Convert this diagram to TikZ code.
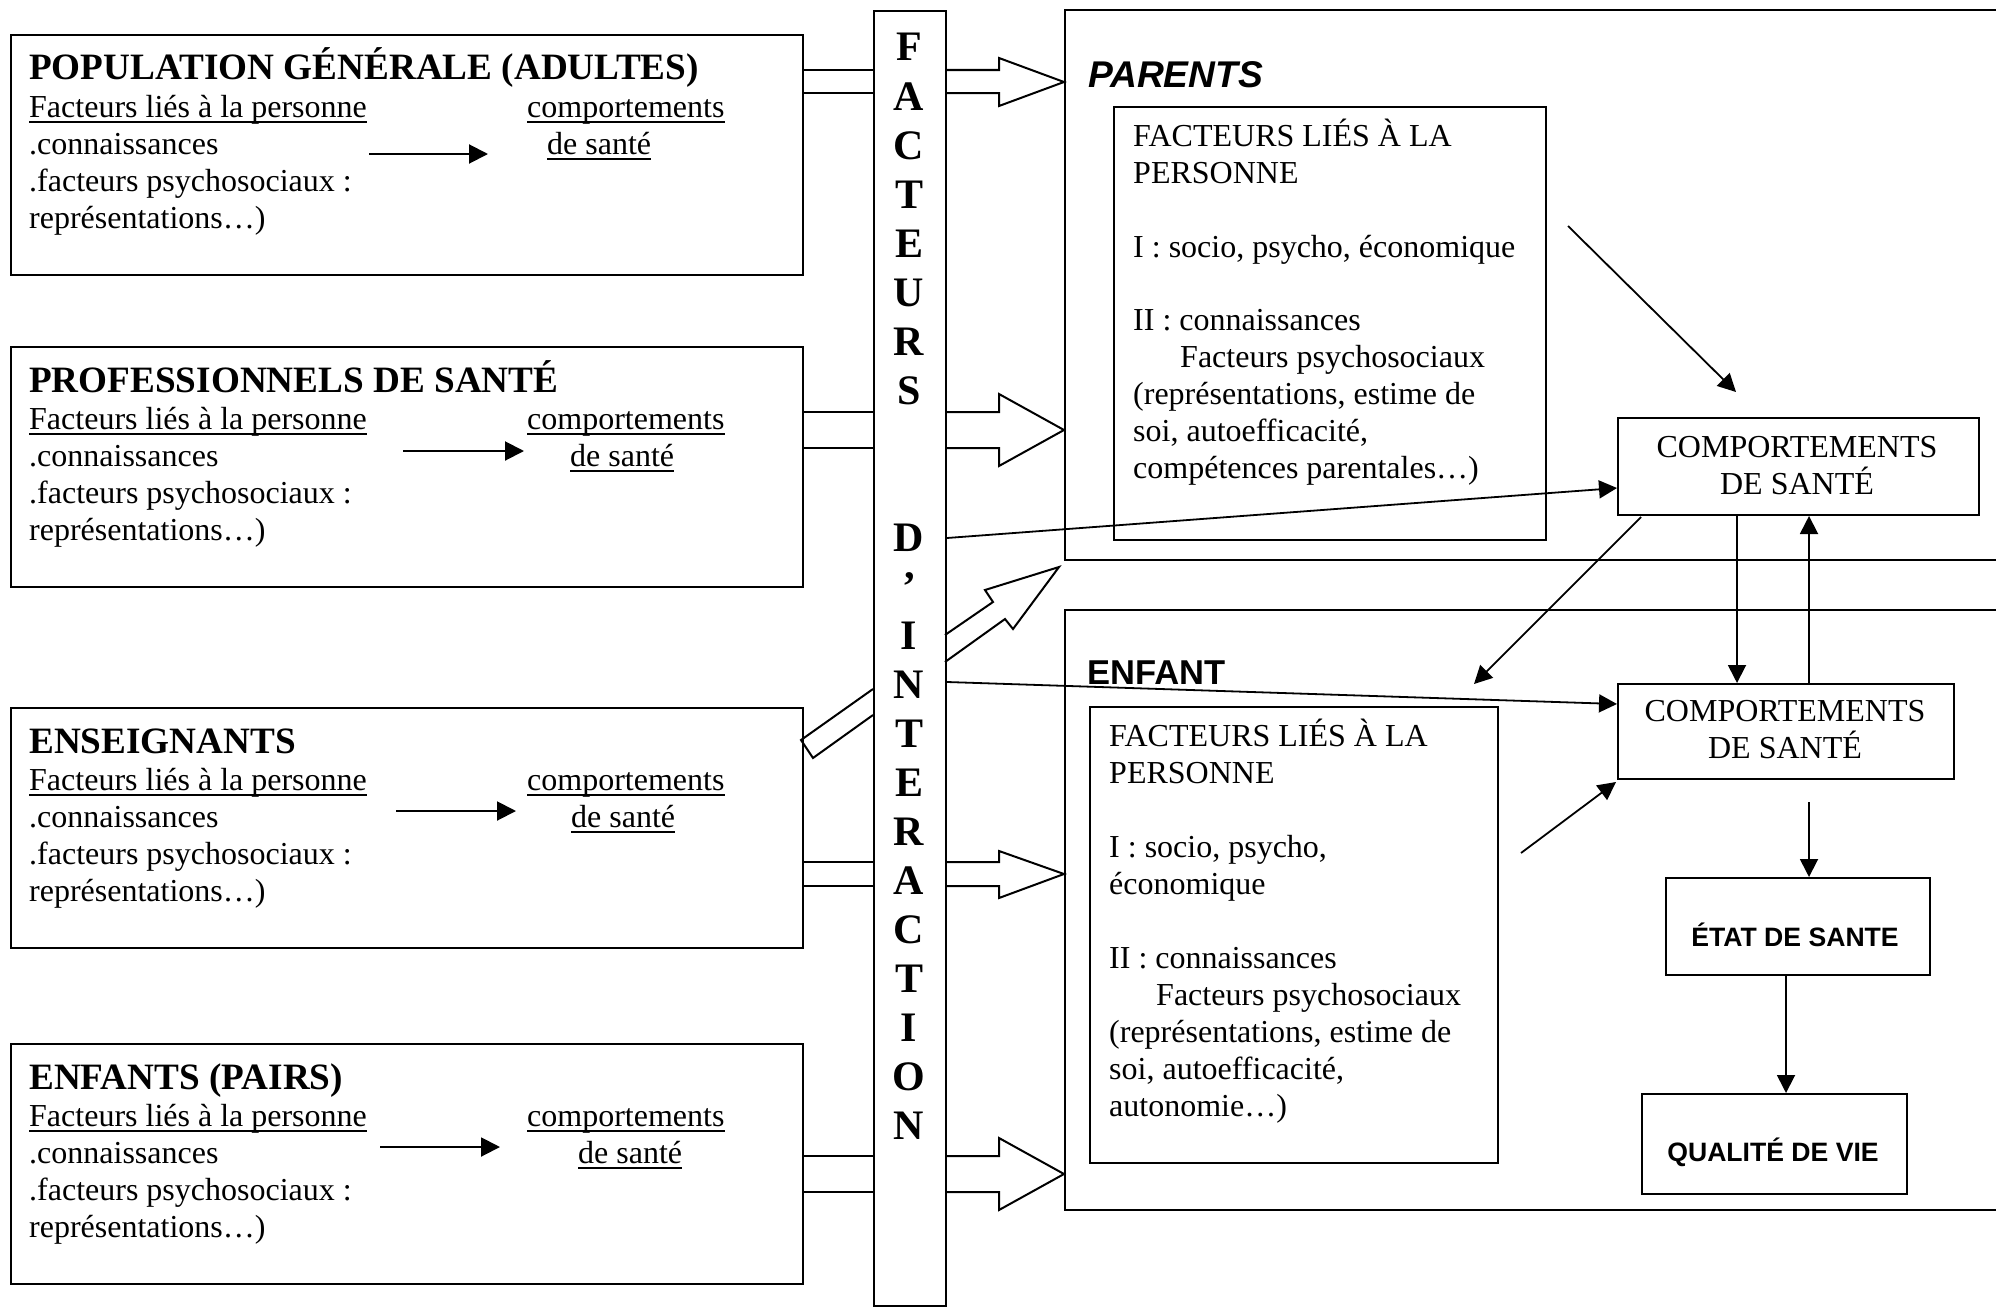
\documentclass[tikz,border=0pt]{standalone}
\usepackage{fontspec}
\setmainfont{Liberation Serif}
\setsansfont{Liberation Sans}
\usetikzlibrary{arrows.meta}
\newcommand\bodyfont{\fontsize{32}{37}\selectfont}
\newcommand\headfont{\fontsize{37.2}{42}\selectfont\bfseries}
\newcommand\colfont{\fontsize{42}{49}\selectfont\bfseries}
\newcommand\labfont{\fontsize{34.5}{40}\selectfont\sffamily\bfseries}
\newcommand\parfont{\fontsize{37.2}{42}\selectfont\sffamily\bfseries\itshape}
\newcommand\smallsans{\fontsize{26.6}{31}\selectfont\sffamily\bfseries}
% left box: name, top y, heading, arrow x1, arrow x2, arrow y, "de sante" x
\newcommand\leftbox[7]{%
  \node[box, minimum width=792pt, minimum height=240pt] (#1) at (10,#2) {};
  \node[txt, font=\headfont] (#1h) at (29,{#2+46}) {#3};
  \node[txt] (#1f) at (29,{#2+83}) {Facteurs liés à la personne};
  \draw[uline] ([yshift=-5pt]#1f.base west) -- ([yshift=-5pt]#1f.base east);
  \node[txt] (#1c) at (29,{#2+120}) {.connaissances};
  \node[txt] (#1p) at (29,{#2+157}) {.facteurs psychosociaux :};
  \node[txt] (#1r) at (29,{#2+194}) {représentations…)};
  \node[txt] (#1k) at (527,{#2+83}) {comportements};
  \draw[uline] ([yshift=-5pt]#1k.base west) -- ([yshift=-5pt]#1k.base east);
  \node[txt] (#1s) at (#7,{#2+120}) {de santé};
  \draw[uline] ([yshift=-5pt]#1s.base west) -- ([yshift=-5pt]#1s.base east);
  \coordinate (#1a1) at (#4,#6);
  \coordinate (#1a2) at (#5,#6);
  \draw[arr] (#1a1) -- (#1a2);
}
\begin{document}
\begin{tikzpicture}[x=1pt,y=-1pt,
  box/.style={draw, line width=2pt, inner sep=0pt, anchor=north west},
  txt/.style={inner sep=0pt, anchor=base west, font=\bodyfont},
  ctxt/.style={inner sep=0pt, anchor=base, font=\bodyfont},
  uline/.style={line width=2pt},
  frame/.style={line width=2pt},
  blockarrow/.style={line width=2pt, line join=miter},
  arr/.style={line width=2pt, -{Triangle[length=19pt,width=19pt]}},
  conn/.style={line width=1.8pt, -{Triangle[length=18pt,width=18pt]}}]
\useasboundingbox (0,0) rectangle (1996,1306);

% ---------- left boxes ----------
\leftbox{b1}{34}{POPULATION GÉNÉRALE (ADULTES)}{369}{488}{154}{547}
\leftbox{b2}{346}{PROFESSIONNELS DE SANTÉ}{403}{524}{451}{570}
\leftbox{b3}{707}{ENSEIGNANTS}{396}{516}{811}{571}
\leftbox{b4}{1043}{ENFANTS (PAIRS)}{380}{500}{1147}{578}

% ---------- central column ----------
\node[box, minimum width=72pt, minimum height=1295pt] (col) at (873,10) {};
\foreach \l [count=\i from 0] in {F,A,C,T,E,U,R,S}
  \node[inner sep=0pt, anchor=base, font=\colfont] (c\i) at (909,{61+49*\i}) {\l};
\foreach \l [count=\i from 10] in {D,’,I,N,T,E,R,A,C,T,I,O,N}
  \node[inner sep=0pt, anchor=base, font=\colfont] (c\i) at (909,{61+49*\i}) {\l};

% ---------- block arrows ----------
% 1: population -> parents
\draw[blockarrow] (b1.east |- 0,70) -- (col.west |- 0,70);
\draw[blockarrow] (b1.east |- 0,93) -- (col.west |- 0,93);
\draw[blockarrow] (col.east |- 0,70) -- (999,70) -- (999,58) -- (1064,82) -- (999,106) -- (999,93) -- (col.east |- 0,93);
% 2: professionnels -> parents
\draw[blockarrow] (b2.east |- 0,412) -- (col.west |- 0,412);
\draw[blockarrow] (b2.east |- 0,448) -- (col.west |- 0,448);
\draw[blockarrow] (col.east |- 0,412) -- (999,412) -- (999,394) -- (1064,430) -- (999,466) -- (999,448) -- (col.east |- 0,448);
% 3: enseignants -> enfant
\draw[blockarrow] (b3.east |- 0,862) -- (col.west |- 0,862);
\draw[blockarrow] (b3.east |- 0,886) -- (col.west |- 0,886);
\draw[blockarrow] (col.east |- 0,862) -- (999,862) -- (999,851) -- (1064,874) -- (999,898) -- (999,886) -- (col.east |- 0,886);
% 4: enfants (pairs) -> enfant
\draw[blockarrow] (b4.east |- 0,1156) -- (col.west |- 0,1156);
\draw[blockarrow] (b4.east |- 0,1192) -- (col.west |- 0,1192);
\draw[blockarrow] (col.east |- 0,1156) -- (999,1156) -- (999,1138) -- (1064,1174) -- (999,1210) -- (999,1192) -- (col.east |- 0,1192);
% 5: enseignants -> parents (diagonal)
\draw[blockarrow] (873,689) -- (801,740) -- (813,758) -- (873,715);
\draw[blockarrow] (945,635) -- (993,602) -- (985,590) -- (1059,567) -- (1013,629) -- (1005,619) -- (945,662);

% ---------- PARENTS ----------
\draw[frame] (1996,10) -- (1065,10) -- (1065,560) -- (1996,560);
\node[inner sep=0pt, anchor=base west, font=\parfont] (parlab) at (1088,87) {PARENTS};
\node[box, minimum width=432pt, minimum height=433pt] (pf) at (1113,106) {};
\node[txt] (pf1) at (1133,146) {FACTEURS LIÉS À LA};
\node[txt] (pf2) at (1133,183) {PERSONNE};
\node[txt] (pf3) at (1133,257) {I : socio, psycho, économique};
\node[txt] (pf4) at (1133,330) {II : connaissances};
\node[txt] (pf5) at (1180,367) {Facteurs psychosociaux};
\node[txt] (pf6) at (1133,404) {(représentations, estime de};
\node[txt] (pf7) at (1133,441) {soi, autoefficacité,};
\node[txt] (pf8) at (1133,478) {compétences parentales…)};
\node[box, minimum width=361pt, minimum height=97pt] (cp) at (1617,417) {};
\node[ctxt] (cp1) at (1797,457) {COMPORTEMENTS};
\node[ctxt] (cp2) at (1797,494) {DE SANTÉ};

% ---------- ENFANT ----------
\draw[frame] (1996,610) -- (1065,610) -- (1065,1210) -- (1996,1210);
\node[inner sep=0pt, anchor=base west, font=\labfont] (enflab) at (1087,684) {ENFANT};
\node[box, minimum width=408pt, minimum height=456pt] (ef) at (1089,706) {};
\node[txt] (ef1) at (1109,746) {FACTEURS LIÉS À LA};
\node[txt] (ef2) at (1109,783) {PERSONNE};
\node[txt] (ef3) at (1109,857) {I : socio, psycho,};
\node[txt] (ef4) at (1109,894) {économique};
\node[txt] (ef5) at (1109,968) {II : connaissances};
\node[txt] (ef6) at (1156,1005) {Facteurs psychosociaux};
\node[txt] (ef7) at (1109,1042) {(représentations, estime de};
\node[txt] (ef8) at (1109,1079) {soi, autoefficacité,};
\node[txt] (ef9) at (1109,1116) {autonomie…)};
\node[box, minimum width=336pt, minimum height=95pt] (ce) at (1617,683) {};
\node[ctxt] (ce1) at (1785,721) {COMPORTEMENTS};
\node[ctxt] (ce2) at (1785,758) {DE SANTÉ};
\node[box, minimum width=264pt, minimum height=97pt] (etat) at (1665,877) {};
\node[inner sep=0pt, anchor=base, font=\smallsans] (etatt) at (1795,946) {ÉTAT DE SANTE};
\node[box, minimum width=265pt, minimum height=100pt] (qual) at (1641,1093) {};
\node[inner sep=0pt, anchor=base, font=\smallsans] (qualt) at (1773,1161) {QUALITÉ DE VIE};

% ---------- connectors ----------
\coordinate (a1s) at (1568,226);  \coordinate (a1e) at (1736,392);
\draw[conn] (a1s) -- (a1e);
\coordinate (a2s) at (col.east |- 0,538); \coordinate (a2e) at (cp.west |- 0,488);
\draw[conn] (a2s) -- (a2e);
\coordinate (a3s) at (1641,517); \coordinate (a3e) at (1474,684);
\draw[conn] (a3s) -- (a3e);
\coordinate (a4s) at (cp.south -| 1737,0); \coordinate (a4e) at (ce.north -| 1737,0);
\draw[conn] (a4s) -- (a4e);
\coordinate (a5s) at (ce.north -| 1809,0); \coordinate (a5e) at (cp.south -| 1809,0);
\draw[conn] (a5s) -- (a5e);
\coordinate (a6s) at (col.east |- 0,682); \coordinate (a6e) at (ce.west |- 0,704);
\draw[conn] (a6s) -- (a6e);
\coordinate (a7s) at (1521,853); \coordinate (a7e) at (1616,782);
\draw[conn] (a7s) -- (a7e);
\coordinate (a8s) at (1809,802); \coordinate (a8e) at (etat.north -| 1809,0);
\draw[conn] (a8s) -- (a8e);
\coordinate (a9s) at (etat.south -| 1786,0); \coordinate (a9e) at (qual.north -| 1786,0);
\draw[conn] (a9s) -- (a9e);
\end{tikzpicture}
\end{document}
